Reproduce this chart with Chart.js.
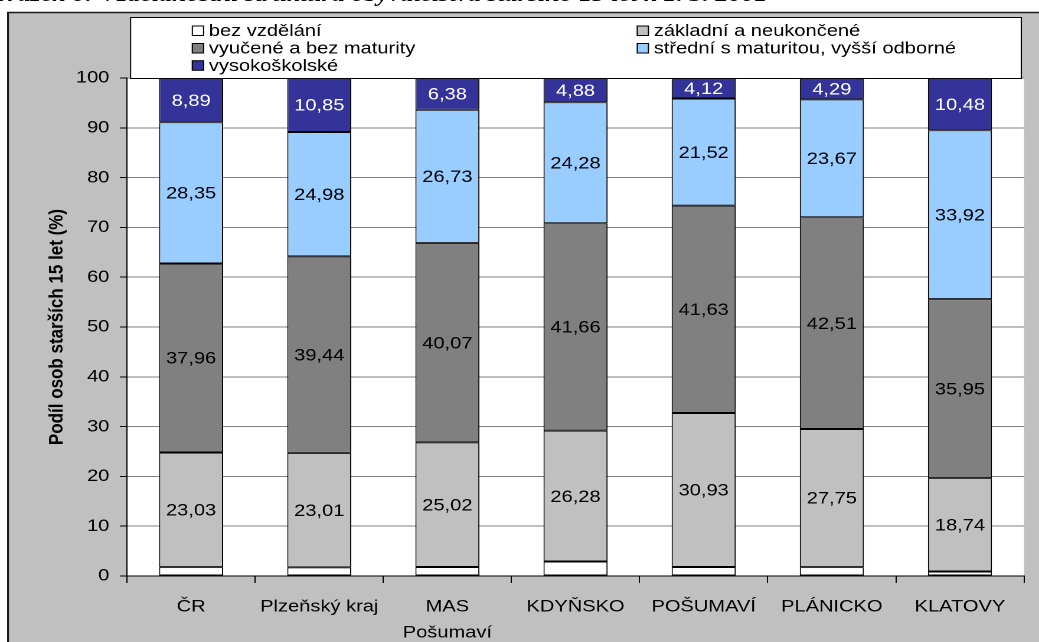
<!DOCTYPE html>
<html lang="cs">
<head>
<meta charset="utf-8">
<title>Vzdělanostní struktura obyvatelstva</title>
<script src="https://cdn.jsdelivr.net/npm/chart.js@4.4.1/dist/chart.umd.min.js"></script>
<style>
  html, body {
    margin: 0;
    padding: 0;
    background: #ffffff;
    overflow: hidden;
  }
  /* the whole figure is laid out narrow and widened horizontally */
  #figure {
    position: relative;
    width: 880px;
    height: 642px;
    transform: scaleX(1.1807);
    transform-origin: 0 0;
  }
  #caption {
    position: absolute;
    right: 230px;
    top: -17px;
    font: italic bold 22px "Liberation Serif", "Times New Roman", serif;
    line-height: 1;
    white-space: nowrap;
    color: #000;
  }
  #chart {
    position: absolute;
    left: 0;
    top: 0;
  }
</style>
</head>
<body>
<div id="figure">
  <div id="caption">Obrázek 6: Vzdělanostní struktura obyvatelstva staršího 15 let k 1. 3. 2001</div>
  <canvas id="chart" width="880" height="642"></canvas>
</div>
<script>
const categories = [
  "ČR",
  "Plzeňský kraj",
  ["MAS", "Pošumaví"],
  "KDYŇSKO",
  "POŠUMAVÍ",
  "PLÁNICKO",
  "KLATOVY",
];
const seriesNames = [
  "bez vzdělání",
  "základní a neukončené",
  "vyučené a bez maturity",
  "střední s maturitou, vyšší odborné",
  "vysokoškolské",
];
const bezVzdelani = [1.77, 1.72, 1.8, 2.9, 1.8, 1.78, 0.91];
const zakladni = [23.03, 23.01, 25.02, 26.28, 30.93, 27.75, 18.74];
const vyucene = [37.96, 39.44, 40.07, 41.66, 41.63, 42.51, 35.95];
const stredni = [28.35, 24.98, 26.73, 24.28, 21.52, 23.67, 33.92];
const vysokoskolske = [8.89, 10.85, 6.38, 4.88, 4.12, 4.29, 10.48];
const yMin = 0;
const yMax = 100;
const yStep = 10;

const FONT = "'Liberation Sans', Arial, sans-serif";
const fillColors = ["#ffffff", "#c0c0c0", "#808080", "#99ccff", "#333399"];
const labelColors = [null, "#000000", "#000000", "#000000", "#ffffff"];

function formatValue(v) {
  return v.toFixed(2).replace(".", ",");
}

// grey panel behind everything, white plot area
const panelPlugin = {
  id: "panel",
  beforeDraw(chart) {
    const ctx = chart.ctx;
    const area = chart.chartArea;
    ctx.save();
    ctx.fillStyle = "#c0c0c0";
    ctx.fillRect(6.8, 12, chart.width, chart.height);
    ctx.strokeStyle = "#1a1a1a";
    ctx.lineWidth = 1.6;
    ctx.beginPath();
    ctx.moveTo(6.8, chart.height + 2);
    ctx.lineTo(6.8, 12.5);
    ctx.lineTo(chart.width + 2, 12.5);
    ctx.stroke();
    ctx.fillStyle = "#ffffff";
    ctx.fillRect(area.left, area.top, area.right - area.left, area.bottom - area.top);
    ctx.restore();
  },
};

// numbers written in the middle of every segment except the lowest one
const valueLabelPlugin = {
  id: "valueLabels",
  afterDatasetsDraw(chart) {
    const ctx = chart.ctx;
    ctx.save();
    ctx.font = "17px " + FONT;
    ctx.textAlign = "center";
    ctx.textBaseline = "middle";
    chart.data.datasets.forEach((ds, i) => {
      if (!labelColors[i]) return;
      const meta = chart.getDatasetMeta(i);
      ctx.fillStyle = labelColors[i];
      meta.data.forEach((bar, j) => {
        const y = (bar.y + bar.base) / 2;
        ctx.fillText(formatValue(ds.data[j]), bar.x, y + 1);
      });
    });
    ctx.restore();
  },
};

// two-column legend in a white box above the plot
const boxLegendPlugin = {
  id: "boxLegend",
  afterDraw(chart) {
    const ctx = chart.ctx;
    const box = { x: 110.1, y: 17, w: 754.4, h: 61 };
    const columns = [162.4, 539.2];
    const rows = [30.5, 48, 65.3];
    ctx.save();
    ctx.fillStyle = "#ffffff";
    ctx.fillRect(box.x, box.y, box.w, box.h);
    ctx.strokeStyle = "#000000";
    ctx.lineWidth = 1;
    ctx.strokeRect(box.x + 0.5, box.y + 0.5, box.w, box.h);
    ctx.font = "17px " + FONT;
    ctx.textAlign = "left";
    ctx.textBaseline = "middle";
    chart.data.datasets.forEach((ds, i) => {
      const x = columns[i % 2];
      const y = rows[Math.floor(i / 2)];
      ctx.fillStyle = ds.backgroundColor;
      ctx.fillRect(x, y - 5, 10, 10);
      ctx.strokeStyle = "#000000";
      ctx.strokeRect(x + 0.5, y - 4.5, 9.5, 9.5);
      ctx.fillStyle = "#000000";
      ctx.fillText(ds.label, x + 14.5, y + 1);
    });
    ctx.restore();
  },
};

const seriesData = [bezVzdelani, zakladni, vyucene, stredni, vysokoskolske];

const datasets = seriesNames.map((name, i) => ({
  label: name,
  data: seriesData[i],
  backgroundColor: fillColors[i],
  borderColor: "#000000",
  borderWidth: 1,
  borderSkipped: false,
  barPercentage: 0.5,
  categoryPercentage: 1,
}));

const chart = new Chart(document.getElementById("chart"), {
  type: "bar",
  data: {
    labels: categories,
    datasets: datasets,
  },
  options: {
    responsive: false,
    animation: false,
    devicePixelRatio: 2,
    layout: {
      padding: { top: 78, right: 12.7, left: 0, bottom: 0 },
    },
    plugins: {
      legend: { display: false },
      title: { display: false },
      tooltip: { enabled: false },
    },
    scales: {
      x: {
        stacked: true,
        grid: {
          offset: true,
          drawOnChartArea: false,
          tickLength: 7,
          tickColor: "#000000",
        },
        border: { color: "#000000", width: 1 },
        ticks: {
          color: "#000000",
          padding: 11,
          maxRotation: 0,
          autoSkip: false,
          font: { family: FONT, size: 17, lineHeight: 1.53 },
        },
        afterFit(scale) {
          scale.height = 66;
        },
      },
      y: {
        stacked: true,
        min: yMin,
        max: yMax,
        grid: {
          color: "#808080",
          tickColor: "#000000",
          tickLength: 6,
        },
        border: { color: "#000000", width: 1 },
        ticks: {
          stepSize: yStep,
          color: "#000000",
          padding: 9,
          font: { family: FONT, size: 17 },
        },
        title: {
          display: true,
          text: "Podíl osob starších 15 let (%)",
          color: "#000000",
          font: { family: FONT, size: 17, weight: "bold" },
          padding: { top: 38, bottom: 0 },
        },
        afterFit(scale) {
          scale.width = 107.6;
        },
      },
    },
  },
  plugins: [panelPlugin, valueLabelPlugin, boxLegendPlugin],
});
</script>
</body>
</html>
